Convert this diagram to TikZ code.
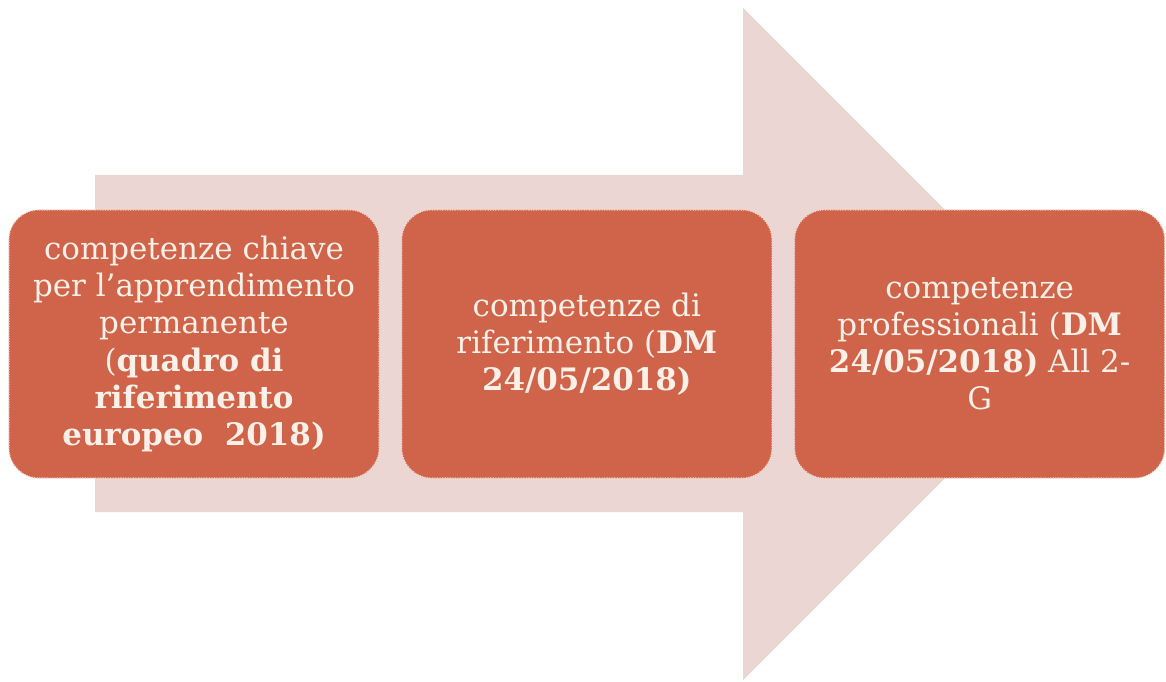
\documentclass[tikz,border=0pt]{standalone}
\usepackage{fontspec}
\setmainfont{DejaVu Serif}
\usepackage{xcolor}
\definecolor{ArrowPink}{HTML}{EBD6D3}
\definecolor{BoxRust}{HTML}{D0644A}
\definecolor{BoxEdge}{HTML}{F3CFC3}
\definecolor{TextCream}{HTML}{FDF0E8}
\usetikzlibrary{positioning}

\begin{document}
\begin{tikzpicture}[x=0.025cm,y=-0.025cm,node distance=5.4mm,box/.style={draw=BoxEdge,densely dotted,line width=0.8pt,rounded corners=7.5mm,fill=BoxRust,text=TextCream,minimum width=9.25cm,minimum height=6.7cm,align=center,font=\fontsize{22}{26.4}\selectfont}]
\useasboundingbox (0,0) rectangle (1166,682);
% big arrow behind the three steps
\fill[ArrowPink] (95,175) -- (743,175) -- (743,8) -- (1079,344) -- (743,680) -- (743,512) -- (95,512) -- cycle;
\node[box] (a) at (194,344) {competenze chiave\\per l'apprendimento\\permanente\\(\textbf{quadro di}\\\textbf{riferimento}\\\textbf{europeo\ \ 2018)}};
\node[box,right=of a] (b) {competenze di\\riferimento (\textbf{DM}\\\textbf{24/05/2018)}};
\node[box,right=of b] (c) {competenze\\professionali (\textbf{DM}\\\textbf{24/05/2018)} All 2-\\G};
\end{tikzpicture}
\end{document}
